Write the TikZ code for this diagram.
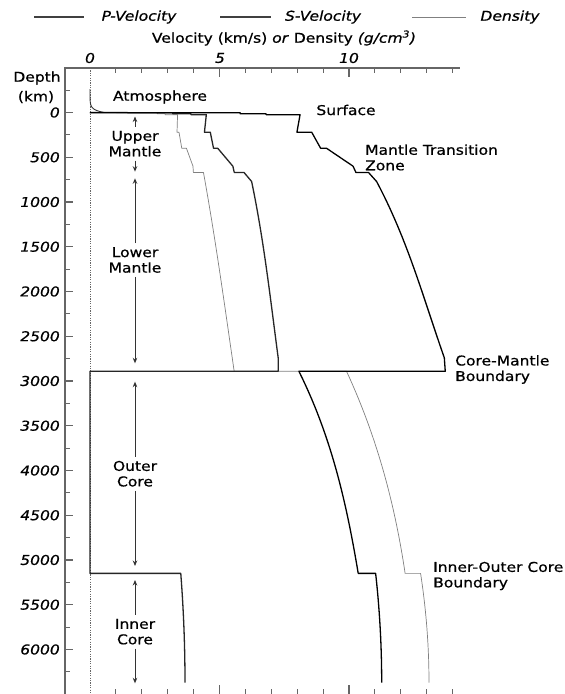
\documentclass[tikz,border=0pt]{standalone}
\usepackage{fontspec}
\setmainfont{DejaVu Sans}[ItalicFont={DejaVu Sans Oblique},FakeStretch=1.15,FakeBold=0.6]
\usetikzlibrary{arrows.meta}
\begin{document}
\begin{tikzpicture}[x=1pt,y=-1pt,
  font=\fontsize{13.5}{15.5}\selectfont,
  declare function={rr(\d)=(6371-\d)/6371;},
  axisline/.style={draw=black!60,line width=1.2pt},
  axtick/.style={draw=black!60,line width=1.1pt},
  pvel/.style={draw=black,line width=1.3pt,line join=round},
  svel/.style={draw=black!85,line width=1.3pt,line join=round},
  dens/.style={draw=black!50,line width=0.7pt,line join=round},
  legline/.style={draw=black!75,line width=1.1pt},
  numlbl/.style={inner sep=1pt,font=\fontsize{13.5}{15.5}\selectfont\itshape},
  reglbl/.style={inner sep=1pt,align=center},
  sidelbl/.style={inner sep=1pt,align=left,anchor=west},
  regarrow/.style={-{Stealth[length=5.5pt,width=4.5pt]},line width=0.9pt,draw=black!80,shorten <=3pt}]
\useasboundingbox (0,0) rectangle (565,694);
\fill[white] (0,0) rectangle (565,694);

% legend
\draw[legline] (34,17) -- (84,17);
\node[inner sep=1pt] (legp) at (139,17) {\itshape P-Velocity};
\draw[legline] (220,17) -- (271,17);
\node[inner sep=1pt] (legs) at (323,17) {\itshape S-Velocity};
\draw[dens] (412,17) -- (466,17);
\node[inner sep=1pt] (legd) at (510,17) {\itshape Density};

% title
\node[inner sep=1pt] (title) at (284,38) {Velocity (km/s) \textit{or} Density \textit{(g/cm\textsuperscript{3})}};

% axes
\draw[axisline] (65,694) -- (65,68) -- (460,68);
\foreach \v in {1,...,14} {
  \draw[axtick] ({90+25.9*\v},68) -- ++(0,5);
  \draw[axtick] ({90+25.9*\v},694) -- ++(0,-5);
}
\foreach \v in {5,10} {
  \draw[axtick] ({90+25.9*\v},68) -- ++(0,9);
  \draw[axtick] ({90+25.9*\v},694) -- ++(0,-9);
}
\node[numlbl] (t0) at (90,58) {0};
\node[numlbl] (t5) at (220,58) {5};
\node[numlbl] (t10) at (349,58) {10};

\foreach \d in {-250,250,...,6250}
  \draw[axtick] (65,{112.5+0.0895*\d}) -- ++(5,0);
\foreach \d in {0,500,...,6000} {
  \draw[axtick] (65,{112.5+0.0895*\d}) -- ++(8,0);
  \node[numlbl,anchor=east] (dl\d) at (61,{112.5+0.0895*\d}) {\d};
}
\node[inner sep=1pt] (depth) at (37,78) {Depth};
\node[inner sep=1pt] (km) at (36,97) {(km)};

% zero line
\draw[black!60,line width=1pt,dash pattern=on 1.2pt off 1.2pt] (90,68) -- (90,694);

% data
\begin{scope}[shift={(90,112.5)},x=25.9pt,y=-0.0895pt]
% atmosphere
\draw[black!80,line width=0.9pt] plot[domain=-262:0,samples=40] ({0.55*exp(\x/30)},\x) -- (1.02,0);
% density
\draw[dens] (1.02,0) -- (1.02,3) -- (2.6,3) -- (2.6,15) -- (2.9,15) -- (2.9,24.4)
 -- plot[domain=24.4:220,samples=2] ({2.6910+0.6924*rr(\x)},\x)
 -- plot[domain=220:400,samples=2] ({7.1089-3.8045*rr(\x)},\x)
 -- plot[domain=400:600,samples=2] ({11.2494-8.0298*rr(\x)},\x)
 -- plot[domain=600:670,samples=2] ({5.3197-1.4836*rr(\x)},\x)
 -- plot[domain=670:2891,samples=30] ({7.9565-6.4761*rr(\x)+5.5283*rr(\x)^2-3.0807*rr(\x)^3},\x)
 -- plot[domain=2891:5149.5,samples=30] ({12.5815-1.2638*rr(\x)-3.6426*rr(\x)^2-5.5281*rr(\x)^3},\x)
 -- plot[domain=5149.5:6371,samples=15] ({13.0885-8.8381*rr(\x)^2},\x);
% S velocity
\draw[svel] (0,0) -- (0,3) -- (3.2,3) -- (3.2,15) -- (3.9,15) -- (3.9,24.4)
 -- plot[domain=24.4:220,samples=2] ({2.1519+2.3481*rr(\x)},\x)
 -- plot[domain=220:400,samples=2] ({8.9496-4.4597*rr(\x)},\x)
 -- plot[domain=400:600,samples=2] ({22.3512-18.5856*rr(\x)},\x)
 -- plot[domain=600:670,samples=2] ({9.9839-4.9324*rr(\x)},\x)
 -- plot[domain=670:771,samples=4] ({22.3459-17.2473*rr(\x)-2.0834*rr(\x)^2+0.9783*rr(\x)^3},\x)
 -- plot[domain=771:2741,samples=30] ({11.1671-13.7818*rr(\x)+17.4575*rr(\x)^2-9.2777*rr(\x)^3},\x)
 -- plot[domain=2741:2891,samples=4] ({6.9254+1.4672*rr(\x)-2.0834*rr(\x)^2+0.9783*rr(\x)^3},\x)
 -- (0,2891) -- (0,5149.5)
 -- plot[domain=5149.5:6371,samples=15] ({3.6678-4.4475*rr(\x)^2},\x);
% P velocity
\draw[pvel] (0,0) -- (1.45,0) -- (1.45,3) -- (5.8,3) -- (5.8,15) -- (6.8,15) -- (6.8,24.4)
 -- plot[domain=24.4:220,samples=2] ({4.1875+3.9382*rr(\x)},\x)
 -- plot[domain=220:400,samples=2] ({20.3926-12.2569*rr(\x)},\x)
 -- plot[domain=400:600,samples=2] ({39.7027-32.6166*rr(\x)},\x)
 -- plot[domain=600:670,samples=2] ({19.0957-9.8672*rr(\x)},\x)
 -- plot[domain=670:771,samples=4] ({29.2766-23.6027*rr(\x)+5.5242*rr(\x)^2-2.5514*rr(\x)^3},\x)
 -- plot[domain=771:2741,samples=30] ({24.9520-40.4673*rr(\x)+51.4832*rr(\x)^2-26.6419*rr(\x)^3},\x)
 -- plot[domain=2741:2891,samples=4] ({15.3891-5.3181*rr(\x)+5.5242*rr(\x)^2-2.5514*rr(\x)^3},\x)
 -- plot[domain=2891:5149.5,samples=30] ({11.0487-4.0362*rr(\x)+4.8023*rr(\x)^2-13.5732*rr(\x)^3},\x)
 -- plot[domain=5149.5:6371,samples=15] ({11.2622-6.3640*rr(\x)^2},\x);
\end{scope}

% region labels
\node[reglbl] (atm) at (160,97) {Atmosphere};
\node[reglbl] (surf) at (346,110) {Surface};
\node[sidelbl] (mtz) at (364,157.5) {Mantle Transition\\Zone};
\node[sidelbl] (cmb) at (454,369.5) {Core-Mantle\\Boundary};
\node[sidelbl] (icb) at (432,576) {Inner-Outer Core\\Boundary};

\node[reglbl] (um) at (135,143.7) {Upper\\Mantle};
\node[reglbl] (lm) at (135,260) {Lower\\Mantle};
\node[reglbl] (oc) at (135,473.7) {Outer\\Core};
\node[reglbl] (ic) at (135,631.7) {Inner\\Core};

\coordinate (umtop) at (135,116.5);
\coordinate (umbot) at (135,171.7);
\coordinate (lmtop) at (135,178.3);
\coordinate (lmbot) at (135,363.3);
\coordinate (octop) at (135,381.7);
\coordinate (ocbot) at (135,566);
\coordinate (ictop) at (135,580);
\coordinate (icbot) at (135,683.3);

\draw[regarrow] (um.north) -- (umtop);
\draw[regarrow] (um.south) -- (umbot);
\draw[regarrow] (lm.north) -- (lmtop);
\draw[regarrow] (lm.south) -- (lmbot);
\draw[regarrow] (oc.north) -- (octop);
\draw[regarrow] (oc.south) -- (ocbot);
\draw[regarrow] (ic.north) -- (ictop);
\draw[regarrow] (ic.south) -- (icbot);
\end{tikzpicture}
\end{document}
